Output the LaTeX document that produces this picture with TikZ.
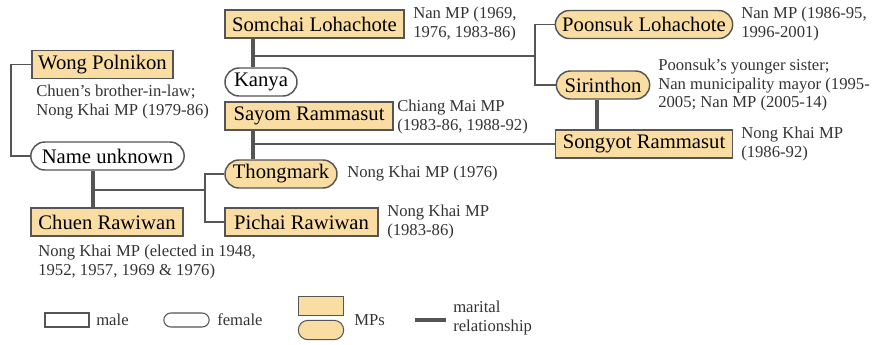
\documentclass[tikz,border=0pt]{standalone}
\usepackage{fontspec}
\setmainfont{Liberation Serif}
\usetikzlibrary{shapes.misc}
\definecolor{mpfill}{HTML}{FADDA2}
\definecolor{edge}{HTML}{555555}
\definecolor{note}{HTML}{333333}
\tikzset{
  person/.style = {align=center, inner sep=0pt, text centered,
    font=\fontsize{15.5}{17}\selectfont, draw=edge, line width=1.1pt,
    minimum height=21pt},
  m/.style = {person, rectangle},% homme
  f/.style = {person, rounded rectangle},% femme
  mp/.style = {fill=mpfill},% depute
  info/.style = {align=left, anchor=west, inner sep=0pt, text=note,
    font=\fontsize{12.5}{13.8}\selectfont},% texte a droite
  kin/.style = {draw=edge, line width=1.1pt},% lien de parente
  wed/.style = {draw=edge, line width=2.4pt}% lien marital
}
\begin{document}
\begin{tikzpicture}[x=0.75pt,y=-0.75pt]
\useasboundingbox (0,0) rectangle (876,344);
% personnes
\node [m, mp, minimum width=134pt] (somchai) at (314.5,24) {Somchai Lohachote};
\node [f, mp, minimum width=133pt] (poonsuk) at (644,24.5) {Poonsuk Lohachote};
\node [m, mp, minimum width=106pt] (wong) at (102.5,64.5) {Wong Polnikon};
\node [f, minimum width=54pt] (kanya) at (261,82) {Kanya};
\node [f, mp, minimum width=70pt] (sirinthon) at (603,85) {Sirinthon};
\node [m, mp, minimum width=126pt] (sayom) at (309,116) {Sayom Rammasut};
\node [m, mp, minimum width=133pt] (songyot) at (644,144) {Songyot Rammasut};
\node [f, minimum width=115pt] (unknown) at (107.5,156) {Name unknown};
\node [f, mp, minimum width=84pt] (thongmark) at (281,174) {Thongmark};
\node [m, mp, minimum width=114pt] (chuen) at (107,222) {Chuen Rawiwan};
\node [m, mp, minimum width=115pt] (pichai) at (301.5,222) {Pichai Rawiwan};
% notes
\node [info] (nsomchai) at (413,24) {Nan MP (1969,\\1976, 1983-86)};
\node [info] (npoonsuk) at (741,24) {Nan MP (1986-95,\\1996-2001)};
\node [info] (nwong) at (36,102) {Chuen's brother-in-law;\\Nong Khai MP (1979-86)};
\node [info] (nsirinthon) at (658,85) {Poonsuk's younger sister;\\Nan municipality mayor (1995-\\2005; Nan MP (2005-14)};
\node [info] (nsayom) at (397,117) {Chiang Mai MP\\(1983-86, 1988-92)};
\node [info] (nsongyot) at (741,144) {Nong Khai MP\\(1986-92)};
\node [info] (nthongmark) at (347,174) {Nong Khai MP (1976)};
\node [info] (npichai) at (387,222) {Nong Khai MP\\(1983-86)};
\node [info] (nchuen) at (38,262) {Nong Khai MP (elected in 1948,\\1952, 1957, 1969 \& 1976)};
% points de jonction
\coordinate (sk) at (253,56);
\coordinate (skfork) at (535,56);
\coordinate (st) at (253,144);
\coordinate (ss) at (597,0);
\coordinate (uc) at (93,190);
\coordinate (ucfork) at (205,190);
\coordinate (wbend) at (11,0);
% liens
\draw [kin] (wong.west) -| (wbend |- unknown.west) -- (unknown.west);
\draw [wed] (somchai.south -| sk) -- (kanya.north -| sk);
\draw [kin] (sk) -- (skfork);
\draw [kin] (skfork) |- (poonsuk.west);
\draw [kin] (skfork) |- (sirinthon.west);
\draw [wed] (sayom.south -| st) -- (thongmark.north -| st);
\draw [kin] (st) -- (songyot.west);
\draw [wed] (sirinthon.south -| ss) -- (songyot.north -| ss);
\draw [wed] (unknown.south -| uc) -- (chuen.north -| uc);
\draw [kin] (uc) -- (ucfork);
\draw [kin] (ucfork) |- (thongmark.west);
\draw [kin] (ucfork) |- (pichai.west);
% legende
\node [m, line width=0.8pt, minimum width=33pt, minimum height=10.5pt] (lmale) at (67,320) {};
\node [info] (tmale) at (96,320) {male};
\node [f, line width=0.8pt, minimum width=34pt, minimum height=10.5pt] (lfemale) at (186.5,320) {};
\node [info] (tfemale) at (217,320) {female};
\node [m, mp, line width=0.8pt, minimum width=34pt, minimum height=14.5pt] (lmpm) at (321,306) {};
\node [f, mp, line width=0.8pt, minimum width=34pt, minimum height=14.5pt] (lmpf) at (321,330) {};
\node [info] (tmp) at (354,320) {MPs};
\coordinate (lwa) at (415,320);
\coordinate (lwb) at (446,320);
\draw [wed] (lwa) -- (lwb);
\node [info] (twed) at (453,318) {marital\\relationship};
\end{tikzpicture}
\end{document}
